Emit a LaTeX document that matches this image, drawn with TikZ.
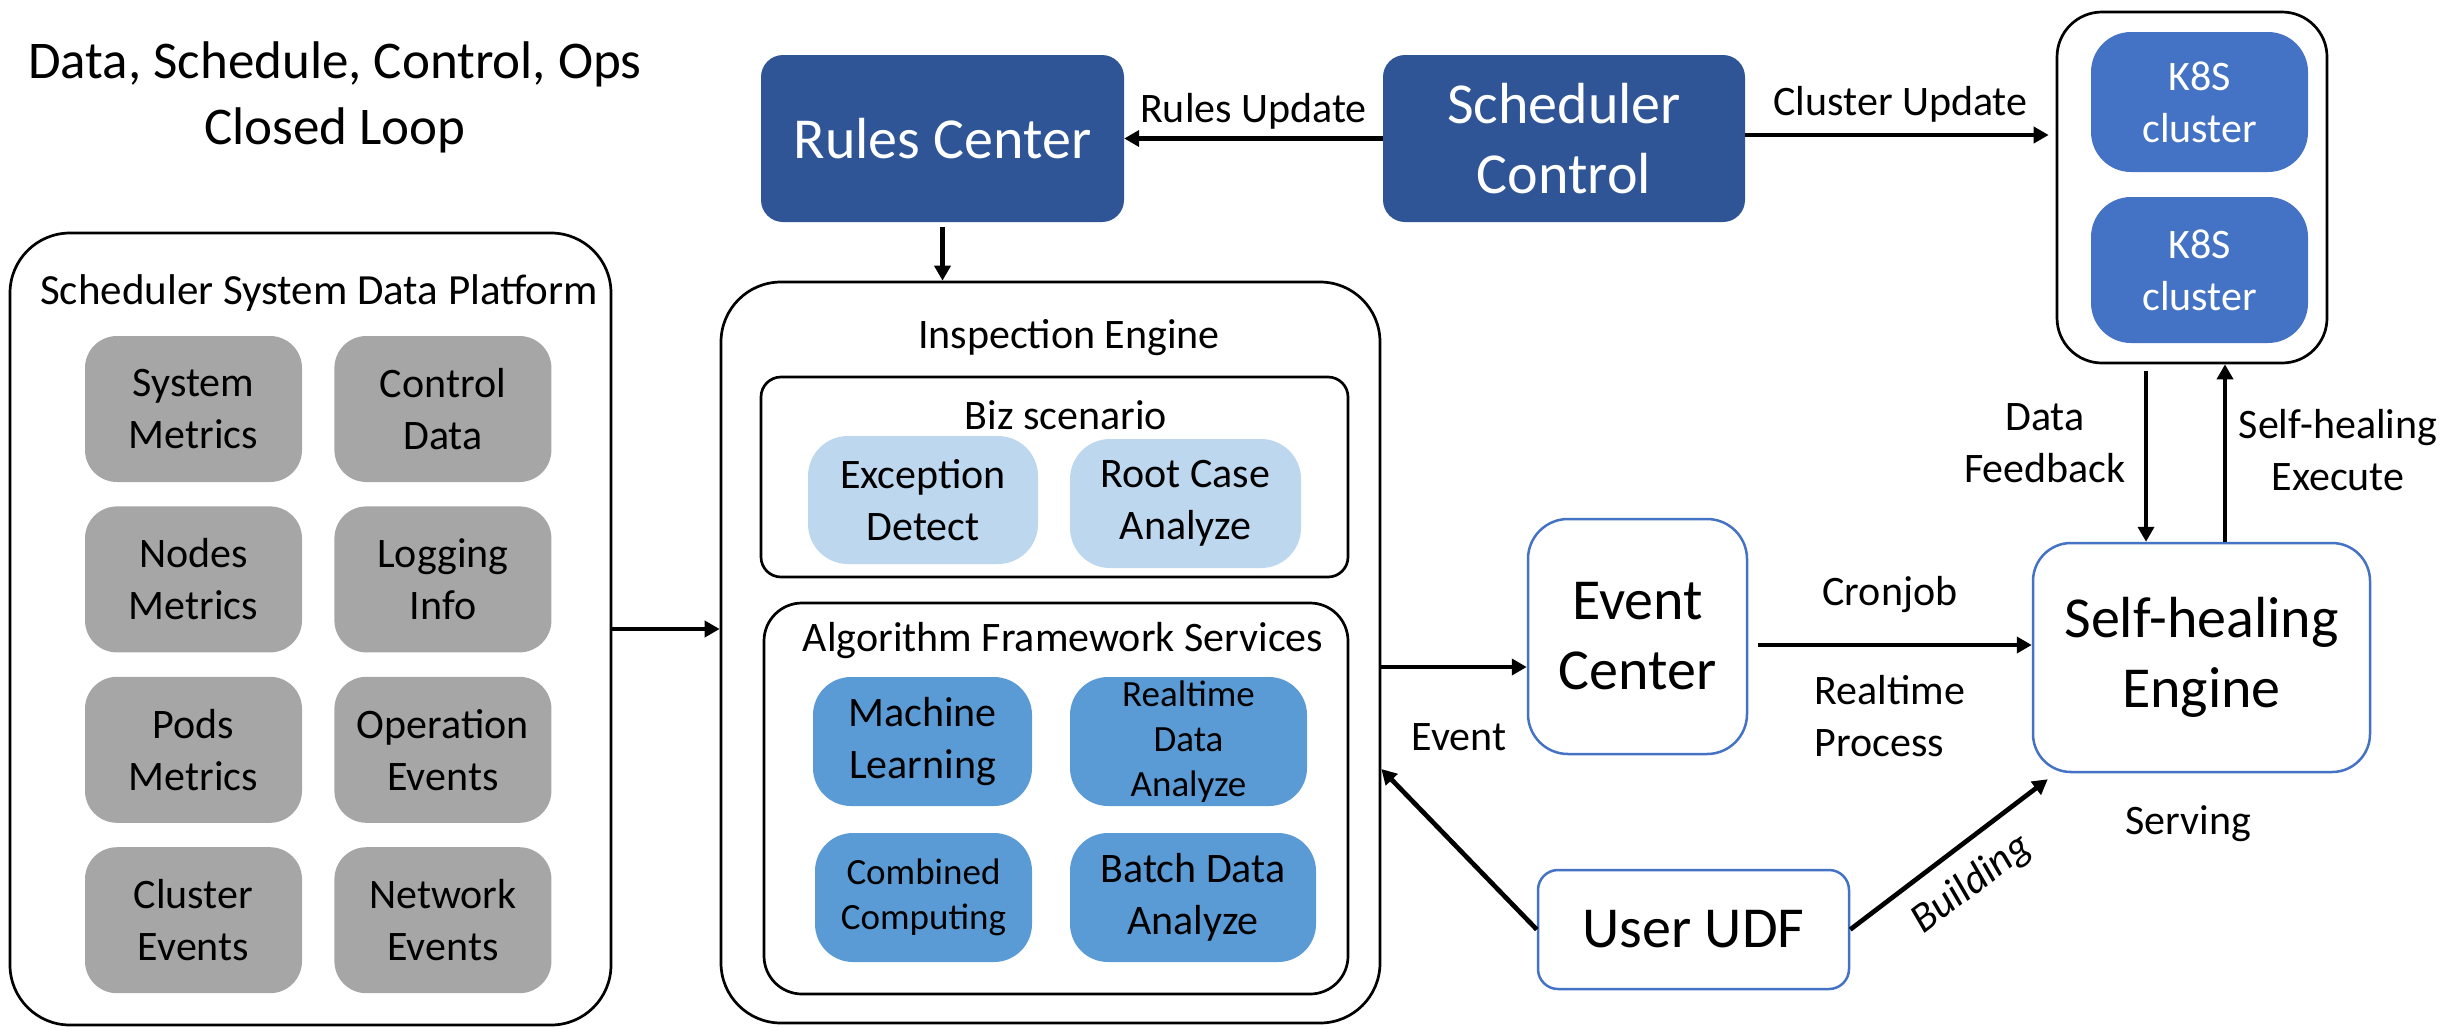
\documentclass[tikz,border=0pt]{standalone}
\usepackage{fontspec}
\setmainfont{Carlito}
\usetikzlibrary{
  arrows.meta,
  positioning
}
\definecolor{darkblue}{HTML}{2F5597}
\definecolor{k8sblue}{HTML}{4472C4}
\definecolor{lightblue}{HTML}{BDD7EE}
\definecolor{midblue}{HTML}{5B9BD5}
\definecolor{boxgray}{HTML}{A6A6A6}
\tikzset{
  bigtxt/.style={
    font=\fontsize{58}{70}\selectfont,
  },
  midtxt/.style={
    font=\fontsize{42}{52}\selectfont,
  },
  smalltxt/.style={
    font=\fontsize{37}{45}\selectfont,
  },
  wh/.style 2 args={
    minimum width=#1pt,
    minimum height=#2pt,
  },
  frame/.style={
    draw=black,
    line width=2.7pt,
  },
  ctrl/.style={
    bigtxt,
    fill=darkblue,
    text=white,
    rounded corners=22pt,
    align=center,
  },
  k8s/.style={
    midtxt,
    fill=k8sblue,
    text=white,
    rounded corners=40pt,
    align=center,
  },
  metric/.style={
    midtxt,
    fill=boxgray,
    rounded corners=32pt,
    align=center,
    wh={217}{146},
  },
  biz/.style={
    midtxt,
    fill=lightblue,
    rounded corners=40pt,
    align=center,
  },
  algo/.style={
    fill=midblue,
    rounded corners=38pt,
    align=center,
  },
  svc/.style={
    bigtxt,
    draw=k8sblue,
    line width=2.5pt,
    align=center,
  },
  lbl/.style={
    midtxt,
    inner sep=0pt,
    align=center,
  },
  edge/.style={
    line width=4.7pt,
    -{Triangle[length=15pt,width=16pt]},
  },
}

\begin{document}
\begin{tikzpicture}[x=1pt, y=-1pt]
  \useasboundingbox (0,0) rectangle (2443,1029);

  \node[font=\fontsize{53}{66}\selectfont, align=center] (title) at (335,97)
    {Data, Schedule, Control, Ops\\Closed Loop};

  % top row
  \node[ctrl, wh={363}{167}] (rc) at (942.5,138.5) {Rules Center};
  \node[ctrl, wh={362}{167}] (sc) at (1564,138.5) {Scheduler\\Control};
  \node[frame, rounded corners=45pt, wh={270}{351}] (k8s) at (2192,187.5) {};
  \node[k8s, wh={217}{140}] (k8sa) at (2199.5,102) {K8S\\cluster};
  \node[k8s, wh={217}{146}] (k8sb) at (2199.5,270) {K8S\\cluster};

  % data platform
  \node[frame, rounded corners=60pt, wh={601}{792}] (plat) at (310.5,629) {};
  \node[font=\fontsize{43}{52}\selectfont] (plattitle) at (319,293) {Scheduler System Data Platform};
  \node[metric] (sysm) at (193.5,409) {System\\Metrics};
  \node[metric, right=32pt of sysm] (ctld) {Control\\Data};
  \node[metric, below=24pt of sysm] (nodm) {Nodes\\Metrics};
  \node[metric, right=32pt of nodm] (logi) {Logging\\Info};
  \node[metric, below=24pt of nodm] (podm) {Pods\\Metrics};
  \node[metric, right=32pt of podm] (opev) {Operation\\Events};
  \node[metric, below=24pt of podm] (clev) {Cluster\\Events};
  \node[metric, right=32pt of clev] (nwev) {Network\\Events};

  % inspection engine
  \node[frame, rounded corners=60pt, wh={659}{741}] (ie) at (1050.5,652.5) {};
  \node[midtxt] (ietitle) at (1069,338) {Inspection Engine};
  \node[frame, rounded corners=20pt, wh={587}{200}] (bizs) at (1054.5,477) {};
  \node[midtxt] (biztitle) at (1066,415) {Biz scenario};
  \node[biz, wh={230}{128}] (exc) at (923,500) {Exception\\Detect};
  \node[biz, wh={231}{129}] (root) at (1185.5,503.5) {Root Case\\Analyze};
  \node[frame, rounded corners=38pt, wh={584}{391}] (alg) at (1056,798.5) {};
  \node[midtxt] (algtitle) at (1063,641) {Algorithm Framework Services};
  \node[algo, midtxt, wh={219}{129}] (ml) at (922.5,741.5) {Machine\\Learning};
  \node[algo, smalltxt, wh={237}{129}] (rda) at (1188.5,741.5) {Realtime\\Data\\Analyze};
  \node[algo, smalltxt, wh={217}{129}] (cc) at (923.5,897.5) {Combined\\Computing};
  \node[algo, midtxt, wh={246}{129}] (bda) at (1193,897.5) {Batch Data\\Analyze};

  % right side
  \node[svc, rounded corners=40pt, wh={219}{235}] (ec) at (1637.5,636.5) {Event\\Center};
  \node[svc, rounded corners=38pt, wh={337}{229}] (seng) at (2201.5,657.5) {Self-healing\\Engine};
  \node[svc, rounded corners=20pt, wh={311}{119}] (udf) at (1693.5,929.5) {User UDF};

  % labels
  \node[lbl] (lblfeed) at (2045,443) {Data\\Feedback};
  \node[lbl] (lblexec) at (2338,450) {Self-healing\\Execute};
  \node[lbl] (lblevent) at (1459,737) {Event};
  \node[lbl] (lblserve) at (2188,824) {Serving};

  % edges
  \draw[edge] (sc.west) -- node[lbl, above=7pt] (lblrules) {Rules Update} (rc.east);
  \draw[edge, shorten >=7pt] ([yshift=3.5pt]sc.east) -- node[lbl, above=10pt] (lblcluster) {Cluster Update} ([yshift=3.5pt]sc.east -| k8s.west);
  \draw[edge, shorten <=5pt] (rc.south) -- (rc.south |- ie.north);
  \draw[edge] (plat.east) -- (plat.east -| ie.west);
  \draw[edge] ([yshift=-14.5pt]ie.east) -- ([yshift=-14.5pt]ie.east -| ec.west);
  \draw[edge, shorten <=10pt] ([yshift=-8.5pt]ec.east) --
    node[lbl, above=30pt] (lblcron) {Cronjob}
    node[lbl, below=28pt, align=left] (lblreal) {Realtime\\Process}
    ([yshift=-8.5pt]ec.east -| seng.west);
  \draw[edge, shorten <=7pt] ([xshift=-46pt]k8s.south) -- ([xshift=-46pt]k8s.south |- seng.north);
  \draw[edge] ([xshift=23.5pt]seng.north) -- ([xshift=23.5pt]seng.north |- k8s.south);
  \draw[edge] (udf.west) -- ([yshift=-116.5pt]ie.east);
  \draw[edge] (udf.east) -- node[lbl, sloped, below=17pt] (lblbuild) {\itshape Building}
    ([xshift=16pt,yshift=-6pt]seng.south west);
\end{tikzpicture}
\end{document}
